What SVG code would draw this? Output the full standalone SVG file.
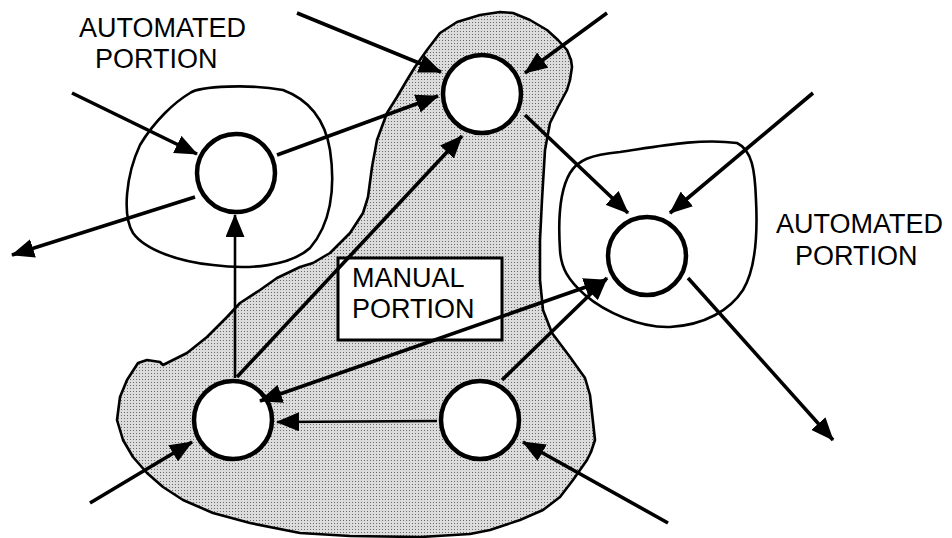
<svg xmlns="http://www.w3.org/2000/svg" width="952" height="538" viewBox="0 0 952 538">
<style>
.lbl{font-family:"Liberation Sans",Arial,sans-serif;font-size:27px;fill:#000}
.node{fill:#fff;stroke:#000;stroke-width:4.5}
.blob{fill:none;stroke:#000;stroke-width:2.6;stroke-linejoin:round}
.arr{stroke:#000;stroke-width:3.6;fill:none;marker-end:url(#ah)}
.thin{stroke-width:2.6}
</style>
<defs>
<pattern id="stip" width="3" height="3" patternUnits="userSpaceOnUse">
<rect width="3" height="3" fill="#dcdcdc"/>
<rect x="1" y="1" width="1" height="1" fill="#6a6a6a"/>
</pattern>
<marker id="ah" markerUnits="userSpaceOnUse" markerWidth="23" markerHeight="19" viewBox="0 0 23 19" refX="22" refY="9.5" orient="auto-start-reverse">
<path d="M0,0 L23,9.5 L0,19 Z" fill="#000"/>
</marker>
</defs>
<rect width="952" height="538" fill="#fff"/>

<g id="manual-portion">
<path class="blob" style="fill:url(#stip)" d="M480,15 L500,12 L513,13 L530,20 L547,30 L558,40 L567,50 L571,60 L572,67 L570,80 L567,90 L558,107 L550,123 L545,150 L542,200 L540,240 L540,280 L543,310 L552,333 L570,357 L585,378 L590,395 L592,413 L595,440 L591,452 L587,460 L573,480 L560,497 L543,510 L520,520 L490,530 L470,534 L420,537 L350,536 L300,533 L250,523 L213,513 L183,500 L163,487 L147,473 L133,457 L123,440 L117,420 L120,397 L127,380 L138,363 L147,360 L160,362 L163,365 L187,353 L207,337 L227,317 L240,303 L260,290 L277,278 L300,267 L313,263 L330,253 L350,233 L363,213 L368,197 L372,167 L377,140 L387,113 L397,97 L407,80 L415,67 L427,50 L440,33 L457,22 Z"/>
<rect x="338" y="258" width="164" height="82" fill="#fff" stroke="#000" stroke-width="3"/>
<text class="lbl" x="352" y="287">MANUAL</text>
<text class="lbl" x="352" y="318">PORTION</text>
</g>

<g id="automated-left">
<path class="blob" d="M190,93 C200,86 250,84 283,90 C310,100 325,120 330,150 C336,190 330,225 310,248 C290,266 250,270 213,265 C180,262 145,250 133,233 C122,215 126,175 140,145 C155,120 175,102 190,93 Z"/>
<text class="lbl" x="79" y="37">AUTOMATED</text>
<text class="lbl" x="95" y="68">PORTION</text>
</g>

<g id="automated-right">
<path class="blob" d="M560,250 C558,220 560,190 570,173 C578,160 590,155 620,152 C660,146 700,138 737,143 C752,150 755,170 756,200 C758,240 755,270 743,290 C730,310 705,325 670,327 C640,328 605,312 585,295 C568,280 561,268 560,250 Z"/>
<text class="lbl" x="776" y="233">AUTOMATED</text>
<text class="lbl" x="795" y="265">PORTION</text>
</g>

<g id="node-a"><circle class="node" cx="236" cy="173" r="39"/></g>
<g id="node-b"><circle class="node" cx="482" cy="94" r="39"/></g>
<g id="node-c"><circle class="node" cx="647" cy="256" r="39"/></g>
<g id="node-d"><circle class="node" cx="233" cy="420" r="39"/></g>
<g id="node-e"><circle class="node" cx="480" cy="420" r="39"/></g>

<g id="connectors">
<line class="arr" x1="72" y1="93" x2="197" y2="154"/>
<line class="arr" x1="277" y1="155" x2="438" y2="96"/>
<line class="arr" x1="195" y1="197" x2="12" y2="255"/>
<line class="arr thin" x1="235" y1="378" x2="235" y2="215"/>
<line class="arr" x1="237" y1="377" x2="462" y2="136"/>
<line class="arr" x1="297" y1="13" x2="441" y2="72"/>
<line class="arr" x1="607" y1="13" x2="525" y2="73"/>
<line class="arr" x1="525" y1="115" x2="628" y2="213"/>
<line class="arr" x1="813" y1="93" x2="670" y2="213"/>
<line class="arr" x1="688" y1="278" x2="833" y2="440"/>
<line class="arr" x1="502" y1="380" x2="607" y2="278"/>
<line class="arr" style="marker-start:url(#ah)" x1="260" y1="401" x2="606" y2="280"/>
<line class="arr thin" x1="437" y1="421" x2="277" y2="422"/>
<line class="arr" x1="90" y1="503" x2="192" y2="442"/>
<line class="arr" x1="668" y1="523" x2="523" y2="442"/>
</g>
</svg>
